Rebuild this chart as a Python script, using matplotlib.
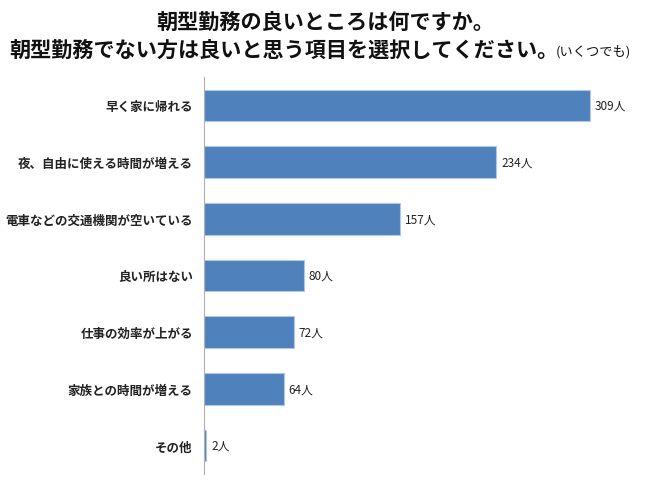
import matplotlib
matplotlib.use('Agg')
import matplotlib.pyplot as plt

plt.rcParams['font.family'] = ['Noto Sans CJK JP', 'DejaVu Sans']

# data
items = ['早く家に帰れる', '夜、自由に使える時間が増える', '電車などの交通機関が空いている',
         '良い所はない', '仕事の効率が上がる', '家族との時間が増える', 'その他']
counts = [309, 234, 157, 80, 72, 64, 2]
unit = '人'

fig = plt.figure(figsize=(6.5, 4.85), dpi=100)
ax = fig.add_axes([0.3138, 0.021, 0.672, 0.818])

pos = list(range(len(items)))
ax.barh(pos, counts, height=0.56, color='#4f81bd', edgecolor='#b0c8e6', linewidth=0.8)
ax.set_ylim(len(items) - 0.5, -0.5)
ax.set_xlim(0, 350)

for p, c in zip(pos, counts):
    ax.text(c + 4, p, f'{c}{unit}', va='center', ha='left', fontsize=8.5, color='#222222')

ax.set_yticks(pos)
ax.set_yticklabels(items, fontsize=9, fontweight='bold', color='#222222')
ax.tick_params(axis='y', length=0, pad=8)
ax.set_xticks([])
for s in ['top', 'right', 'bottom']:
    ax.spines[s].set_visible(False)
ax.spines['left'].set_color('#b0b0b0')
ax.spines['left'].set_linewidth(0.8)

fig.text(0.5, 0.955, '朝型勤務の良いところは何ですか。', ha='center', va='center',
         fontsize=15.2, fontweight='bold', color='#111111')
t = fig.text(0.015, 0.897, '朝型勤務でない方は良いと思う項目を選択してください。', ha='left', va='center',
             fontsize=15.2, fontweight='bold', color='#111111')

# put the small "(いくつでも)" right after the second title line
fig.canvas.draw()
bb = t.get_window_extent().transformed(fig.transFigure.inverted())
fig.text(bb.x1 - 0.005, 0.893, '(いくつでも)', ha='left', va='center', fontsize=9.5, color='#111111')

fig.savefig('out.png', dpi=100)
